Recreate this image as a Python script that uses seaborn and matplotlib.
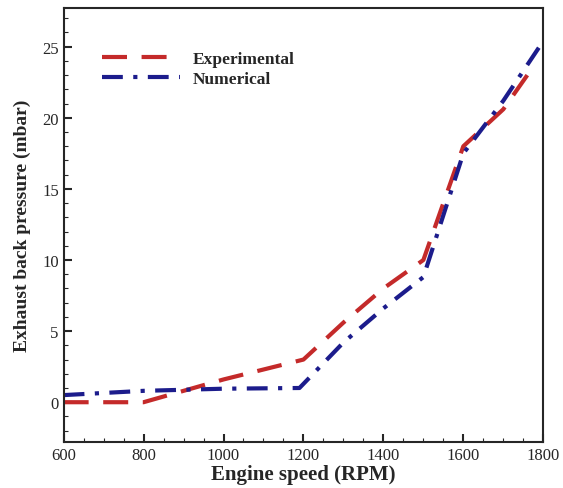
import seaborn as sns
import matplotlib.pyplot as plt
from matplotlib.ticker import MultipleLocator

# values
exp_rpm = [600, 800, 1000, 1200, 1300, 1400, 1500, 1600, 1700, 1760]
exp_pressure = [0.0, 0.0, 1.6, 3.0, 5.6, 8.0, 10.0, 18.0, 20.6, 23.0]

num_rpm = [600, 800, 1000, 1190, 1300, 1400, 1500, 1600, 1700, 1800]
num_pressure = [0.5, 0.8, 0.95, 1.0, 4.2, 6.6, 8.8, 17.5, 21.2, 25.4]

sns.set_style("ticks")
plt.rcParams['font.family'] = ['Liberation Serif', 'DejaVu Serif']

fig = plt.figure(figsize=(5.63, 4.89), dpi=100)
ax = fig.add_axes([0.113, 0.094, 0.852, 0.887])

sns.lineplot(x=exp_rpm, y=exp_pressure, ax=ax, color='#c42a2a', lw=3,
             linestyle=(0, (6, 3.5)), label='Experimental')
sns.lineplot(x=num_rpm, y=num_pressure, ax=ax, color='#1c1c8c', lw=3,
             linestyle=(0, (5, 2.5, 1, 2.5)), label='Numerical')

ax.set_xlim(600, 1800)
ax.set_ylim(-2.8, 27.7)
ax.xaxis.set_major_locator(MultipleLocator(200))
ax.xaxis.set_minor_locator(MultipleLocator(50))
ax.yaxis.set_major_locator(MultipleLocator(5))
ax.yaxis.set_minor_locator(MultipleLocator(1))
ax.tick_params(which='both', direction='in', top=False, right=False, labelsize=12)
ax.tick_params(which='major', length=6, width=1.5)
ax.tick_params(which='minor', length=3, width=0.8)
for s in ax.spines.values():
    s.set_linewidth(1.5)

ax.set_xlabel('Engine speed (RPM)', fontsize=15, fontweight='bold', labelpad=1)
ax.set_ylabel('Exhaust back pressure (mbar)', fontsize=14, fontweight='bold', labelpad=8)

leg = ax.legend(loc='upper left', bbox_to_anchor=(0.048, 0.937), frameon=False,
                handlelength=4.5, handletextpad=0.7, prop={'weight': 'bold', 'size': 12.5},
                labelspacing=0.2)

fig.savefig('out.png', dpi=100)
